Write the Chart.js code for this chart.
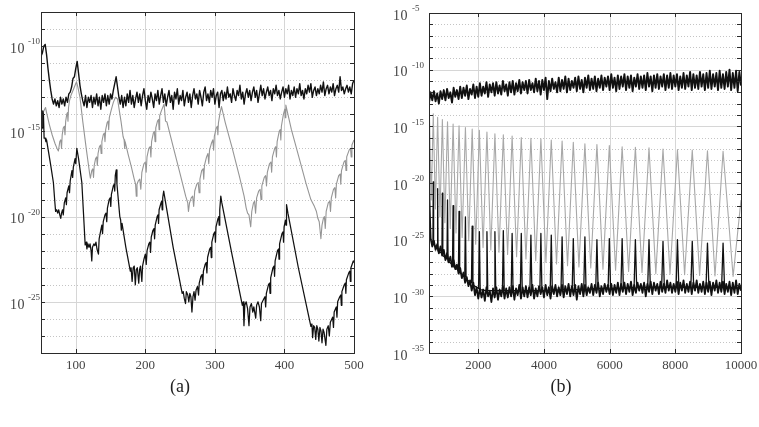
<!DOCTYPE html>
<html>
<head>
<meta charset="utf-8">
<script src="https://cdn.jsdelivr.net/npm/chart.js@4.4.0/dist/chart.umd.min.js"></script>
<style>
  html, body { margin: 0; padding: 0; background: #fff; }
  #wrap { position: relative; width: 759px; height: 427px; overflow: hidden; }
  .panel { position: absolute; top: 0; }
  #pa { left: 0; }
  #pb { left: 380px; }
  .tag { position: absolute; top: 376px; font-family: 'Liberation Serif', serif; font-size: 18px; color: #222; transform: translateX(-50%); }
</style>
</head>
<body>
<div id="wrap">
  <div class="panel" id="pa"><canvas id="chartA" width="380" height="427"></canvas></div>
  <div class="panel" id="pb"><canvas id="chartB" width="379" height="427"></canvas></div>
  <div class="tag" style="left:180px">(a)</div>
  <div class="tag" style="left:561px">(b)</div>
</div>
<script>
// ---------- datos (exponentes en base 10) ----------

// panel (a): eje x 50..500
const xTicksA = [100, 200, 300, 400, 500];
const yLabelsA = [-10, -15, -20, -25];

// curva negra superior (a), muestreada cada 2 desde x = 50
const topAStart = 50, topAStep = 2;
const topAExp = [
  -10.6, -10.4, -10.0, -9.9, -10.5, -11.3, -12.0, -12.6, -13.1, -13.4,
  -13.1, -13.5, -13.2, -13.6, -13.0, -13.4, -13.1, -13.5, -13.0, -13.3,
  -12.8, -12.7, -12.4, -11.9, -11.8, -11.3, -10.9, -11.6, -12.3, -12.8,
  -13.2, -13.5, -12.9, -13.6, -13.0, -13.3, -12.9, -13.6, -13.0, -13.4,
  -12.8, -13.5, -13.0, -13.7, -12.9, -13.3, -12.8, -13.5, -12.9, -13.4,
  -12.8, -13.1, -12.6, -12.2, -11.8, -12.4, -13.0, -13.4, -12.9, -13.6,
  -13.0, -13.5, -12.8, -13.3, -12.6, -13.4, -12.9, -13.6, -13.1, -12.7,
  -13.3, -12.8, -13.5, -12.9, -12.5, -13.2, -13.7, -12.9, -13.3, -12.7,
  -13.1, -13.6, -12.8, -13.2, -12.6, -13.4, -12.9, -12.5, -13.3, -12.8,
  -13.5, -13.0, -12.6, -13.3, -12.9, -13.7, -12.7, -13.1, -12.5, -13.4,
  -12.9, -13.2, -12.6, -13.5, -13.0, -12.7, -13.3, -12.8, -13.6, -12.9,
  -12.5, -13.1, -12.8, -13.4, -12.6, -13.0, -13.5, -12.7, -12.4, -13.2,
  -12.8, -13.3, -12.6, -13.0, -12.5, -13.4, -12.9, -12.7, -13.6, -12.8,
  -12.6, -13.2, -12.7, -13.1, -12.4, -13.0, -12.8, -13.3, -12.5, -12.9,
  -13.2, -12.6, -12.9, -12.3, -13.1, -12.7, -13.4, -12.8, -12.5, -13.0,
  -12.6, -13.2, -12.7, -12.4, -13.0, -12.6, -13.3, -12.8, -12.3, -12.9,
  -12.5, -13.1, -12.7, -12.4, -12.9, -12.6, -13.2, -12.5, -12.8, -12.3,
  -12.9, -12.6, -13.1, -12.7, -12.4, -13.0, -12.5, -12.8, -12.3, -13.1,
  -12.6, -12.9, -12.4, -13.0, -12.5, -12.8, -12.2, -12.9, -12.6, -13.1,
  -12.5, -12.8, -12.3, -12.7, -12.2, -13.0, -12.6, -12.4, -12.9, -12.5,
  -12.8, -12.3, -12.7, -12.1, -12.9, -12.5, -12.3, -12.8, -12.4, -12.7,
  -12.2, -12.9, -12.5, -12.3, -12.7, -11.8, -12.6, -12.4, -12.8, -12.5,
  -12.3, -12.7, -12.4, -12.8, -12.2, -12.0
];

// curva gris (a): [x, exponente]
const grayA = [
  [50,-14.1],[53,-13.9],[56.5,-13.6],[58,-13.9],[62,-14.6],[66,-15.2],[70,-15.7],[73,-16.0],[75,-16.15],
  [77,-15.6],[78.5,-15.5],[79.5,-16.0],[80.5,-15.2],[82,-14.8],[83.5,-14.7],[84.5,-15.2],[85.5,-14.4],[87,-14.0],
  [88,-13.9],[88.8,-14.4],[89.6,-13.6],[91,-13.2],[93,-12.9],[96,-12.6],[99,-12.3],[101,-12.1],[103,-12.4],[106,-13.0],
  [110,-14.4],[115,-16.0],[120,-17.5],[121,-17.75],
  [123,-17.3],[124.5,-17.2],[125.5,-17.7],[126.5,-17.0],[128.5,-16.6],[130,-16.5],[131,-17.0],[132,-16.3],[134,-15.9],
  [135.5,-15.8],[136.5,-16.3],[137.5,-15.6],[139.5,-15.2],[141,-15.1],[142,-15.6],[143,-14.9],[145,-14.5],[146.5,-14.4],
  [147.3,-14.9],[148.2,-14.2],[150,-13.9],[152,-13.6],[154,-13.3],[157,-13.0],[160,-13.1],
  [165,-14.4],[168,-15.3],[169.5,-15.5],[170.3,-16.0],[171,-15.6],[175,-16.3],[180,-17.1],[184,-17.8],[186,-18.1],[187,-18.8],[188,-18.1],
  [190,-17.9],[192,-17.8],[193.5,-18.4],[195,-17.4],[198,-16.9],[200,-16.8],[201.2,-17.4],[202.4,-16.5],[205,-16.0],
  [207,-15.9],[208,-16.5],[209,-15.6],[211.5,-15.1],[213,-15.0],[214,-15.6],[215,-14.8],[217.5,-14.4],[219,-14.3],
  [219.8,-14.9],[220.6,-14.1],[223,-13.8],[227,-13.4],[229,-14.4],[231,-14.45],
  [240,-15.9],[250,-17.5],[258,-18.8],[261,-19.2],[262,-19.7],[263.5,-19.2],
  [266,-18.9],[268,-18.8],[269.5,-19.4],[271,-18.5],[274,-18.1],[276,-18.0],[277.3,-18.6],[278.5,-17.8],[281,-17.3],
  [283,-17.2],[284,-17.8],[285,-17.0],[288,-16.5],[290,-16.3],[291.2,-16.9],[292.3,-16.1],[295,-15.7],[297,-15.5],
  [298.2,-16.1],[299.2,-15.3],[302,-14.8],[303.5,-14.7],[304.3,-15.2],[305.1,-14.5],[307.5,-13.9],[309.5,-13.55],
  [315,-14.5],[325,-16.0],[335,-17.6],[342,-18.8],[345,-19.5],[347,-19.8],[349,-19.9],[351.5,-20.6],[353,-19.7],
  [355.5,-19.2],[357,-19.1],[358.5,-19.8],[360,-18.9],[363,-18.5],[365,-18.4],[366.3,-19.0],[367.5,-18.2],[371,-17.7],
  [373,-17.6],[374.2,-18.2],[375.4,-17.4],[378.5,-16.9],[380.5,-16.8],[381.6,-17.4],[382.7,-16.5],[386,-16.0],
  [387.5,-15.9],[388.5,-16.5],[389.5,-15.6],[392.5,-15.0],[394,-14.9],[394.8,-15.5],[395.6,-14.7],[398.5,-14.0],
  [400.5,-13.7],[401.3,-14.2],[402,-13.46],
  [410,-14.9],[420,-16.4],[431,-18.05],[438,-19.0],[443,-19.4],[446,-19.7],[448,-20.1],[450,-20.3],[452.4,-21.3],[454,-20.5],
  [456,-20.1],[457.5,-20.0],[458.7,-20.7],[460,-19.7],[463,-19.2],[465,-19.1],[466.2,-19.7],[467.4,-18.9],[470.5,-18.4],
  [472.5,-18.3],[473.6,-18.9],[474.7,-18.1],[478,-17.6],[480,-17.5],[481,-18.1],[482,-17.3],[485.5,-16.8],[487.5,-16.7],
  [488.5,-17.3],[489.5,-16.5],[493,-16.1],[495,-16.0],[496,-16.5],[497,-15.8],[500,-15.5]
];

// curva negra inferior (a): [x, exponente]
const lowA = [
  [50,-15.0],[51.5,-14.8],[52.5,-13.8],[53.5,-14.0],[54.5,-15.4],[56,-15.4],[57,-15.6],[58,-15.5],[60,-16.0],[64,-17.0],
  [67.8,-18.0],[70,-19.2],[71,-19.7],[72.5,-19.6],[74,-19.8],[75.5,-19.6],[77,-19.9],[78.4,-20.1],[79.5,-19.8],[81,-19.6],
  [82,-19.9],[83.5,-19.2],[85.5,-18.9],[86.5,-19.3],[87.5,-18.6],[90,-18.2],[91,-18.6],[92,-17.9],[94.5,-17.3],[95.5,-17.7],
  [96.5,-17.1],[99,-16.6],[100,-16.9],[101.5,-16.0],
  [104,-16.6],[108.7,-18.0],[112,-20.5],[113.5,-21.66],[115,-21.5],[116,-21.9],[117.5,-21.6],[119,-21.8],[120.5,-21.6],
  [122,-22.0],[123,-22.6],[124,-21.8],[126,-21.6],[127.5,-21.7],[129,-21.5],[130.5,-21.9],[132.6,-22.2],[133.6,-21.3],
  [136,-20.8],[137.5,-20.5],[138.5,-21.0],[139.5,-20.3],[142,-19.9],[143.5,-19.8],[144.5,-20.3],[145.5,-19.5],[148,-19.0],
  [149.5,-18.9],[150.3,-19.4],[151.2,-18.7],[154,-18.2],[155.3,-18.1],[156,-18.5],[156.8,-17.6],[158.2,-17.26],
  [159.2,-18.1],[163.3,-20.0],[164.5,-20.2],[165.5,-20.8],[166.5,-20.4],[172,-21.8],[178.4,-23.2],[179.5,-23.0],[181,-23.8],
  [182.5,-23.0],[184,-22.9],[185.6,-24.0],[187,-23.1],[188.5,-23.0],[190.5,-23.9],[191.8,-23.1],[193,-22.9],[195,-23.8],
  [196,-22.9],[198,-22.5],[200,-22.2],[201.3,-22.8],[202.5,-22.0],[205,-21.6],[206.5,-21.5],[207.5,-22.1],[208.5,-21.2],
  [211,-20.8],[212.5,-20.7],[213.3,-21.3],[214.2,-20.5],[217,-20.0],[218.3,-19.9],[219,-20.4],[219.8,-19.6],[222.5,-19.2],
  [223.5,-19.1],[224.2,-19.6],[225,-18.9],[226.4,-18.5],
  [228,-18.9],[240,-21.8],[253,-24.5],[254.5,-24.4],[256,-24.8],[257.8,-25.1],[259,-24.4],[261,-24.6],[262.5,-25.0],
  [264,-24.5],[265.5,-24.7],[267,-25.6],[268.5,-24.7],[270,-24.4],[271.5,-24.9],[273,-24.3],[275,-24.1],[276.5,-24.6],
  [277.5,-23.9],[280,-23.5],[281.5,-23.4],[282.5,-24.0],[283.5,-23.2],[286,-22.8],[287.5,-22.7],[288.5,-23.3],[289.5,-22.4],
  [292.5,-21.9],[294,-21.8],[294.8,-22.4],[295.6,-21.5],[298.5,-21.0],[300,-20.9],[300.8,-21.5],[301.6,-20.6],[304.5,-20.1],
  [305.5,-20.0],[306.2,-20.5],[307,-19.6],[308.5,-18.8],
  [310,-19.2],[325,-22.3],[339.5,-25.2],[340.8,-25.0],[341.8,-26.4],[343,-25.2],[345,-25.0],[347,-25.4],[349,-26.4],
  [350.5,-25.3],[352.5,-25.1],[354.5,-25.6],[356,-25.3],[358.7,-25.95],[360,-25.2],[362,-25.0],[364,-25.3],[365.9,-26.1],
  [367,-25.1],[370.6,-24.8],[372,-24.7],[373,-25.3],[374,-24.5],[377,-24.0],[378.5,-23.9],[379.3,-24.5],[380.2,-23.6],
  [383.5,-23.0],[385,-22.9],[385.8,-23.5],[386.6,-22.6],[390,-22.0],[391.5,-21.9],[392.2,-22.5],[393,-21.6],[396.5,-21.0],
  [398,-20.9],[398.7,-21.5],[399.5,-20.6],[401.5,-20.2],[402.3,-20.5],[403,-19.3],
  [405,-19.8],[420,-23.0],[438,-26.44],[439.5,-26.3],[440.5,-27.1],[442,-26.4],[443.5,-26.5],[445,-27.2],[446.5,-26.4],
  [448,-26.6],[449.5,-27.3],[451,-26.5],[452.5,-26.7],[454,-27.4],[455.5,-26.6],[457,-26.8],[459.6,-27.55],[461,-26.6],
  [463,-26.4],[464.5,-27.0],[466,-26.2],[469.3,-25.9],[470.5,-26.5],[471.5,-25.6],[474.5,-25.3],[475.5,-25.9],[476.5,-25.0],
  [479.5,-24.7],[481,-24.6],[481.8,-25.2],[482.6,-24.4],[486,-24.0],[487.5,-23.9],[488.3,-24.5],[489.1,-23.7],[492.5,-23.3],
  [494,-23.2],[494.8,-23.8],[495.6,-23.0],[499,-22.6],[500,-22.7]
];

// panel (b): eje x 500..10000
const xTicksB = [2000, 4000, 6000, 8000, 10000];
const yLabelsB = [-5, -10, -15, -20, -25, -30, -35];

// bandas de ruido (b), muestreadas cada 50 desde x = 500
const bandBStart = 500, bandBStep = 50;
const topBExp = [
  -12.9, -12.0, -12.7, -11.9, -12.8, -12.1, -13.0, -11.9, -12.6, -11.8,
  -12.7, -11.7, -12.5, -12.0, -12.9, -11.6, -12.4, -11.8, -12.6, -11.5,
  -12.5, -11.6, -12.3, -11.4, -12.6, -11.7, -12.2, -11.3, -12.5, -11.5,
  -12.4, -11.2, -12.3, -11.5, -12.1, -11.1, -12.4, -11.3, -12.0, -11.2,
  -12.3, -11.1, -12.1, -11.4, -12.2, -11.0, -11.9, -11.3, -12.3, -11.1,
  -12.0, -11.0, -12.2, -11.2, -11.9, -10.9, -12.1, -11.1, -11.8, -11.0,
  -12.1, -10.9, -11.8, -11.2, -12.0, -10.8, -11.9, -11.0, -12.2, -10.9,
  -11.8, -10.7, -12.6, -11.0, -11.9, -10.8, -11.7, -11.1, -12.0, -10.7,
  -11.9, -10.9, -11.7, -10.6, -12.0, -10.8, -11.8, -11.0, -11.6, -10.7,
  -11.9, -10.6, -11.7, -10.9, -12.0, -10.7, -11.6, -10.5, -11.8, -10.8,
  -11.7, -10.6, -11.9, -10.8, -11.6, -10.5, -11.8, -10.7, -11.5, -10.6,
  -11.8, -10.4, -11.6, -10.7, -11.9, -10.5, -11.7, -10.6, -11.5, -10.4,
  -11.8, -10.6, -11.6, -10.5, -11.9, -10.7, -11.5, -10.4, -11.7, -10.6,
  -11.6, -10.5, -11.8, -10.3, -11.5, -10.6, -11.9, -10.5, -11.6, -10.4,
  -11.7, -10.6, -11.5, -10.4, -11.8, -10.5, -11.6, -10.3, -11.7, -10.5,
  -11.5, -10.4, -11.8, -10.6, -11.6, -10.3, -11.7, -10.5, -11.5, -10.2,
  -11.8, -10.4, -11.6, -10.5, -11.7, -10.2, -11.5, -10.4, -11.8, -10.3,
  -11.6, -10.1, -11.7, -10.4, -11.5, -10.3, -11.8, -10.1, -11.6, -10.4,
  -11.7, -10.2, -11.5, -10.0, -11.8, -10.3, -11.6, -10.1, -11.9, -10.2,
  -11.4
];
const lowBExp = [
  -20.5, -24.9, -25.6, -25.1, -25.9, -25.4, -26.2, -25.6, -26.4, -25.9,
  -26.8, -26.2, -27.0, -26.5, -27.4, -26.8, -27.6, -27.2, -28.0, -27.5,
  -28.4, -27.9, -28.8, -28.3, -29.1, -28.6, -29.5, -28.8, -29.9, -29.2,
  -30.2, -29.3, -30.1, -29.4, -30.4, -29.2, -30.0, -29.5, -30.5, -29.3,
  -30.1, -29.2, -30.3, -29.4, -30.0, -29.1, -30.2, -29.3, -30.1, -29.2,
  -30.0, -29.1, -30.3, -29.3, -29.9, -29.0, -30.2, -29.2, -30.0, -29.1,
  -30.1, -29.2, -29.9, -29.0, -30.2, -29.3, -30.0, -29.1, -29.8, -29.2,
  -30.1, -29.0, -29.9, -29.2, -30.2, -29.1, -29.8, -29.0, -30.0, -29.2,
  -29.9, -29.0, -30.1, -29.1, -29.8, -28.9, -30.0, -29.1, -29.9, -29.0,
  -30.3, -29.1, -29.8, -28.9, -30.0, -29.0, -29.9, -29.2, -29.7, -28.9,
  -29.9, -29.0, -29.7, -28.8, -30.0, -29.1, -29.8, -28.9, -29.6, -29.0,
  -29.8, -28.9, -29.9, -29.0, -29.7, -28.8, -29.9, -28.9, -29.6, -28.8,
  -29.8, -28.9, -29.6, -28.7, -29.9, -29.0, -29.7, -28.8, -29.5, -28.9,
  -29.7, -28.8, -30.0, -28.9, -29.6, -28.7, -29.8, -28.8, -29.5, -28.9,
  -29.8, -28.7, -29.6, -28.9, -29.7, -28.6, -29.5, -28.8, -29.7, -28.9,
  -29.6, -28.7, -29.8, -28.8, -29.5, -28.6, -29.7, -28.9, -29.6, -28.7,
  -29.8, -28.8, -29.5, -28.6, -29.7, -28.9, -29.6, -28.7, -29.8, -28.8,
  -29.6, -28.7, -29.9, -28.8, -29.5, -28.6, -29.7, -28.8, -29.6, -28.7,
  -29.8, -28.9, -29.6, -28.7, -29.9, -28.8, -29.7, -28.6, -29.8, -28.9,
  -29.5
];

// picos negros inferiores (b): [x, exponente]
const spikesB = [
  [504,-24.6],[510,-19.2],[520,-24.8],
  [620,-25.3],[630,-19.9],[640,-25.4],
  [751,-25.8],[763,-20.5],[775,-26.0],
  [894,-26.2],[907,-20.9],[920,-26.4],
  [1048,-26.7],[1064,-21.5],[1080,-26.9],
  [1216,-27.2],[1234,-22.0],[1252,-27.4],
  [1396,-27.7],[1415,-22.5],[1434,-27.9],
  [1589,-28.3],[1609,-23.0],[1629,-28.5],
  [1793,-28.8],[1815,-23.8],[1837,-29.0],
  [2010,-29.3],[2034,-24.3],[2058,-29.4],
  [2239,-29.5],[2264,-24.3],[2289,-29.5],
  [2481,-29.5],[2507,-24.3],[2533,-29.5],
  [2736,-29.5],[2763,-24.2],[2790,-29.5],
  [3003,-29.5],[3031,-24.45],[3059,-29.5],
  [3281,-29.5],[3310,-24.45],[3339,-29.5],
  [3573,-29.5],[3603,-24.6],[3633,-29.5],
  [3876,-29.5],[3907,-24.45],[3938,-29.5],
  [4191,-29.5],[4223,-24.6],[4255,-29.5],
  [4520,-29.4],[4553,-24.75],[4586,-29.4],
  [4860,-29.4],[4894,-24.9],[4928,-29.4],
  [5212,-29.4],[5247,-24.75],[5282,-29.4],
  [5577,-29.3],[5613,-25.0],[5649,-29.3],
  [5954,-29.3],[5991,-24.9],[6028,-29.3],
  [6343,-29.3],[6381,-24.9],[6419,-29.3],
  [6745,-29.2],[6784,-25.0],[6823,-29.2],
  [7159,-29.2],[7199,-25.0],[7239,-29.2],
  [7584,-29.2],[7625,-25.15],[7666,-29.2],
  [8023,-29.2],[8065,-25.0],[8107,-29.2],
  [8473,-29.2],[8516,-25.15],[8559,-29.2],
  [8935,-29.2],[8979,-25.3],[9023,-29.2],
  [9409,-29.2],[9454,-25.3],[9499,-29.2],
  [10000,-29.3]
];

// curva gris (b): picos y valles alternados
const grayB = [
  [500,-15.8],[510,-13.5],[568,-21.5],[630,-13.9],[695,-22.3],[763,-14.2],[833,-23.0],[907,-14.4],
  [983,-23.5],[1064,-14.6],[1147,-24.0],[1234,-14.8],[1322,-24.4],[1415,-14.95],[1509,-24.8],[1609,-15.1],
  [1709,-25.1],[1815,-15.25],[1922,-25.4],[2034,-15.35],[2146,-25.7],[2264,-15.5],[2382,-25.9],[2507,-15.65],
  [2631,-26.1],[2763,-15.75],[2893,-26.3],[3031,-15.85],[3167,-26.5],[3310,-16.0],[3452,-26.7],[3603,-16.05],
  [3750,-26.85],[3907,-16.1],[4060,-27.0],[4223,-16.2],[4383,-27.15],[4553,-16.3],[4718,-27.3],[4894,-16.4],
  [5065,-27.4],[5247,-16.55],[5425,-27.5],[5613,-16.6],[5797,-27.6],[5991,-16.7],[6181,-27.7],[6381,-16.8],
  [6577,-27.8],[6784,-16.85],[6986,-27.9],[7199,-16.9],[7406,-28.0],[7625,-17.0],[7838,-28.05],[8065,-17.05],
  [8283,-28.1],[8516,-17.1],[8740,-28.15],[8979,-17.15],[9208,-28.2],[9454,-17.2],[9760,-28.25],[10000,-21.5]
];

// ---------- utilidades ----------
const serif = "'Liberation Serif', 'Times New Roman', serif";

function desdePares(pares) {
  return pares.map(p => ({ x: p[0], y: Math.pow(10, p[1]) }));
}

function desdeMuestras(inicio, paso, exps) {
  return exps.map((e, i) => ({ x: inicio + i * paso, y: Math.pow(10, e) }));
}

function linea(data, color, ancho) {
  return {
    data: data,
    borderColor: color,
    borderWidth: ancho,
    pointRadius: 0,
    tension: 0,
    fill: false,
    borderJoinStyle: 'round'
  };
}

// rejilla, marco, marcas y etiquetas 10^n dibujadas a mano
function marcoPlugin(cfg) {
  return {
    id: 'marco',
    beforeDatasetsDraw(chart) {
      const { ctx, chartArea: a, scales: { x, y } } = chart;
      ctx.save();
      ctx.lineWidth = 1;
      for (let e = cfg.expMin + 1; e < cfg.expMax; e++) {
        const py = Math.round(y.getPixelForValue(Math.pow(10, e))) + 0.5;
        ctx.beginPath();
        if (e % 5 === 0) {
          ctx.setLineDash([]);
          ctx.strokeStyle = '#d6d6d6';
        } else {
          ctx.setLineDash([1, 2]);
          ctx.strokeStyle = '#c4c4c4';
        }
        ctx.moveTo(a.left, py);
        ctx.lineTo(a.right, py);
        ctx.stroke();
      }
      ctx.setLineDash([]);
      ctx.strokeStyle = '#d6d6d6';
      cfg.xTicks.forEach(v => {
        const px = Math.round(x.getPixelForValue(v)) + 0.5;
        if (px >= a.right - 1) return;
        ctx.beginPath();
        ctx.moveTo(px, a.top);
        ctx.lineTo(px, a.bottom);
        ctx.stroke();
      });
      ctx.restore();
    },
    afterDraw(chart) {
      const { ctx, chartArea: a, scales: { x, y } } = chart;
      ctx.save();
      ctx.strokeStyle = '#2a2a2a';
      ctx.lineWidth = 1;
      // marcas
      ctx.beginPath();
      for (let e = cfg.expMin + 1; e < cfg.expMax; e++) {
        const py = Math.round(y.getPixelForValue(Math.pow(10, e))) + 0.5;
        ctx.moveTo(a.left, py); ctx.lineTo(a.left + 4, py);
        ctx.moveTo(a.right, py); ctx.lineTo(a.right - 4, py);
      }
      cfg.xTicks.forEach(v => {
        const px = Math.round(x.getPixelForValue(v)) + 0.5;
        ctx.moveTo(px, a.top); ctx.lineTo(px, a.top + 4);
        ctx.moveTo(px, a.bottom); ctx.lineTo(px, a.bottom - 4);
      });
      ctx.stroke();
      // marco
      ctx.strokeRect(Math.round(a.left) + 0.5, Math.round(a.top) + 0.5,
        Math.round(a.right - a.left), Math.round(a.bottom - a.top));
      // etiquetas del eje y
      ctx.fillStyle = '#444';
      ctx.textBaseline = 'middle';
      cfg.yLabels.forEach(e => {
        const py = y.getPixelForValue(Math.pow(10, e));
        ctx.font = '14px ' + serif;
        ctx.letterSpacing = '0.5px';
        ctx.textAlign = 'right';
        ctx.fillText('10', cfg.tenRight, py + 3);
        ctx.letterSpacing = '0px';
        ctx.font = '9px ' + serif;
        ctx.textAlign = 'left';
        ctx.fillText(String(e), cfg.expLeft, py - 4);
      });
      ctx.restore();
    }
  };
}

function opciones(xMin, xMax, xTicks, yMin, yMax, anchoY, padding) {
  return {
    responsive: false,
    animation: false,
    parsing: false,
    layout: { padding: padding },
    plugins: { legend: { display: false }, tooltip: { enabled: false } },
    scales: {
      x: {
        type: 'linear',
        bounds: 'data',
        min: xMin,
        max: xMax,
        afterBuildTicks: s => { s.ticks = xTicks.map(v => ({ value: v })); },
        afterFit: s => { s.height = 74; s.paddingLeft = 0; s.paddingRight = 0; },
        grid: { display: false, drawTicks: false },
        border: { display: false },
        ticks: {
          padding: 5,
          maxRotation: 0,
          color: '#444',
          font: { family: serif, size: 13 },
          callback: v => String(v)
        }
      },
      y: {
        type: 'logarithmic',
        min: yMin,
        max: yMax,
        afterFit: s => { s.width = anchoY; },
        grid: { display: false },
        border: { display: false },
        ticks: { display: false }
      }
    }
  };
}

// ---------- panel (a) ----------
new Chart(document.getElementById('chartA').getContext('2d'), {
  type: 'line',
  data: {
    datasets: [
      linea(desdeMuestras(topAStart, topAStep, topAExp), '#111', 1.4),
      linea(desdePares(lowA), '#111', 1.25),
      linea(desdePares(grayA), '#959595', 1.1)
    ]
  },
  options: opciones(50, 500, xTicksA, 1e-28, 1e-8, 41, { left: 0, right: 26, top: 12, bottom: 0 }),
  plugins: [marcoPlugin({ expMin: -28, expMax: -8, xTicks: xTicksA, yLabels: yLabelsA, tenRight: 25, expLeft: 28 })]
});

// ---------- panel (b) ----------
new Chart(document.getElementById('chartB').getContext('2d'), {
  type: 'line',
  data: {
    datasets: [
      linea(desdeMuestras(bandBStart, bandBStep, topBExp), '#111', 1.9),
      linea(desdeMuestras(bandBStart, bandBStep, lowBExp), '#111', 1.8),
      linea(desdePares(spikesB), '#111', 1.3),
      linea(desdePares(grayB), '#a8a8a8', 1.1)
    ]
  },
  options: opciones(500, 10000, xTicksB, 1e-35, 1e-5, 49, { left: 0, right: 18, top: 13, bottom: 0 }),
  plugins: [marcoPlugin({ expMin: -35, expMax: -5, xTicks: xTicksB, yLabels: yLabelsB, tenRight: 28, expLeft: 32 })]
});
</script>
</body>
</html>
